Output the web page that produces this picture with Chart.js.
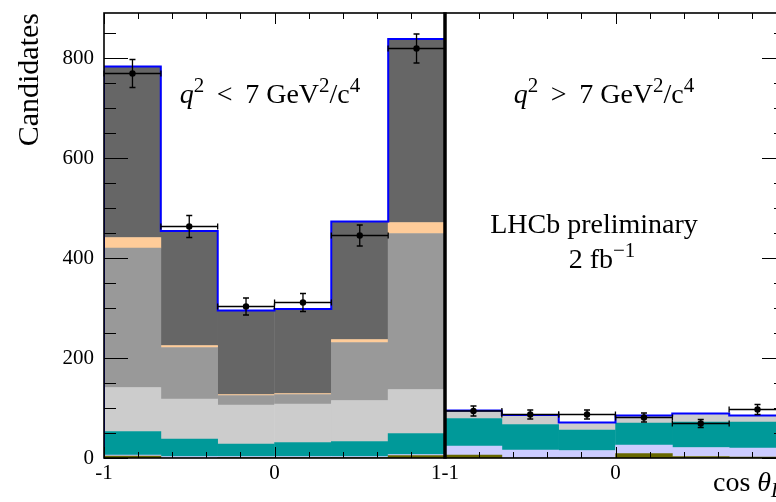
<!DOCTYPE html>
<html>
<head>
<meta charset="utf-8">
<script src="https://cdn.jsdelivr.net/npm/chart.js@4.4.1/dist/chart.umd.min.js"></script>
<style>
  html, body { margin: 0; padding: 0; background: #fff; overflow: hidden; }
  canvas { display: block; }
</style>
</head>
<body>
<canvas id="cosChart" width="800" height="502"></canvas>
<script>
// cos(theta_L) bins, same binning in both q2 ranges
const binCenters = [-0.833, -0.5, -0.167, 0.167, 0.5, 0.833];
const binLeft    = [-1, -0.667, -0.333, 0, 0.333, 0.667];
const xTickLabels = ['-1', '0', '1-1', '0', '1'];

// q2 < 7 GeV2/c4 : fit components, bottom to top
const oliveLow  = [4, 0, 1, 1, 1, 5];
const lilacLow  = [2, 3, 2, 2, 2, 2];
const tealLow   = [47, 35, 25, 28, 30, 42];
const silverLow = [88, 80, 78, 77, 82, 88];
const greyLow   = [279, 103, 19, 19, 116, 312];
const peachLow  = [21, 4, 2, 2, 6, 22];
const darkLow   = [342, 229, 168, 169, 236, 367];
const dataLow   = [769, 463, 303, 311, 445, 819];
const errLow    = [28, 22, 17, 18, 21, 29];

// q2 > 7 GeV2/c4
const oliveHigh  = [6, 0, 0, 9, 3, 2];
const lilacHigh  = [18, 16, 15, 17, 18, 18];
const tealHigh   = [55, 51, 41, 44, 51, 52];
const silverHigh = [16, 19, 15, 15, 17, 13];
const greyHigh   = [0, 0, 0, 0, 0, 0];
const peachHigh  = [0, 0, 0, 0, 0, 0];
const darkHigh   = [0, 0, 0, 0, 0, 0];
const dataHigh   = [94, 87, 87, 81, 69, 97];
const errHigh    = [10, 9, 9, 9, 8, 10];

// both panels share one linear axis: low range at u = c+1, high range at u = c+3
const OFF_LOW = 1, OFF_HIGH = 3;
const SERIF = '"Liberation Serif", "DejaVu Serif", serif';

function pts(vals, offset) {
  return binCenters.map((c, i) => ({ x: c + offset, y: vals[i] }));
}
function both(low, high) {
  return pts(low, OFF_LOW).concat(pts(high, OFF_HIGH));
}
function histBar(low, high, color) {
  return { type: 'bar', data: both(low, high), backgroundColor: color, borderWidth: 0,
           grouped: false, barPercentage: 1, categoryPercentage: 1 };
}

const partsLow  = [oliveLow, lilacLow, tealLow, silverLow, greyLow, peachLow, darkLow];
const partsHigh = [oliveHigh, lilacHigh, tealHigh, silverHigh, greyHigh, peachHigh, darkHigh];
const totalOf = parts => binCenters.map((c, i) => parts.reduce((s, p) => s + p[i], 0));

// histogram outline from the summed components
function outline(parts, offset, key) {
  const tot = totalOf(parts);
  const d = [{ x: binLeft[0] + offset, y: 0 }];
  binLeft.forEach((b, i) => d.push({ x: b + offset, y: tot[i] }));
  d.push({ x: 1 + offset, y: tot[tot.length - 1] });
  return { type: 'line', data: d, stepped: 'before', borderColor: '#0000ff', borderWidth: 2,
           pointRadius: 0, fill: false, stack: key };
}

function richText(ctx, parts, x, y, size, align) {
  const fontOf = p => (p.i ? 'italic ' : '') + (p.s ? Math.round(size * 0.74) : size) + 'px ' + SERIF;
  let w = 0;
  parts.forEach(p => { ctx.font = fontOf(p); w += ctx.measureText(p.t).width; });
  let cx = align === 'center' ? x - w / 2 : x;
  parts.forEach(p => {
    ctx.font = fontOf(p);
    const dy = p.s === 'sup' ? -size * 0.4 : p.s === 'sub' ? size * 0.22 : 0;
    ctx.fillText(p.t, cx, y + dy);
    cx += ctx.measureText(p.t).width;
  });
}

const frame = {
  id: 'frame',
  afterDatasetsDraw(chart) {
    const { ctx, chartArea: a, scales: { x, y } } = chart;
    ctx.save();
    ctx.strokeStyle = '#000';
    ctx.fillStyle = '#000';

    // error bars on the data points
    ctx.lineWidth = 1.3;
    const errs = (vals, errv, offset) => {
      binCenters.forEach((c, i) => {
        const px = x.getPixelForValue(c + offset);
        const x0 = x.getPixelForValue(c - 1 / 6 + offset);
        const x1 = x.getPixelForValue(c + 1 / 6 + offset);
        const py = y.getPixelForValue(vals[i]);
        const ylo = y.getPixelForValue(vals[i] - errv[i]);
        const yhi = y.getPixelForValue(vals[i] + errv[i]);
        ctx.beginPath();
        ctx.moveTo(x0, py); ctx.lineTo(x1, py);
        ctx.moveTo(x0, py - 3); ctx.lineTo(x0, py + 3);
        ctx.moveTo(x1, py - 3); ctx.lineTo(x1, py + 3);
        ctx.moveTo(px, ylo); ctx.lineTo(px, yhi);
        ctx.moveTo(px - 3, ylo); ctx.lineTo(px + 3, ylo);
        ctx.moveTo(px - 3, yhi); ctx.lineTo(px + 3, yhi);
        ctx.stroke();
      });
    };
    errs(dataLow, errLow, OFF_LOW);
    errs(dataHigh, errHigh, OFF_HIGH);

    // inward ticks
    ctx.lineWidth = 1;
    ctx.beginPath();
    for (let v = 0; v <= y.max; v += 50) {
      const py = Math.round(y.getPixelForValue(v)) + 0.5;
      const len = v % 200 === 0 ? 24 : 12;
      ctx.moveTo(a.left, py); ctx.lineTo(a.left + len, py);
      ctx.moveTo(a.right, py); ctx.lineTo(a.right - len, py);
    }
    for (let i = 0; i <= 20; i++) {
      const px = Math.round(x.getPixelForValue(i * 0.2)) + 0.5;
      const len = i % 5 === 0 ? 11 : 6;
      ctx.moveTo(px, a.top); ctx.lineTo(px, a.top + len);
      ctx.moveTo(px, a.bottom); ctx.lineTo(px, a.bottom - len);
    }
    ctx.stroke();

    // frame and the divider between the two q2 ranges
    ctx.lineWidth = 1.6;
    ctx.strokeRect(a.left, a.top, a.right - a.left, a.bottom - a.top);
    ctx.lineWidth = 3.5;
    const mid = x.getPixelForValue(2);
    ctx.beginPath(); ctx.moveTo(mid, a.top - 0.8); ctx.lineTo(mid, a.bottom + 0.8); ctx.stroke();

    // labels
    ctx.textBaseline = 'alphabetic';
    richText(ctx, [{ t: 'q', i: 1 }, { t: '2', s: 'sup' }, { t: ' \u2009<\u2009 7 GeV' }, { t: '2', s: 'sup' },
                   { t: '/c' }, { t: '4', s: 'sup' }], 270, 103, 28, 'center');
    richText(ctx, [{ t: 'q', i: 1 }, { t: '2', s: 'sup' }, { t: ' \u2009>\u2009 7 GeV' }, { t: '2', s: 'sup' },
                   { t: '/c' }, { t: '4', s: 'sup' }], 604, 103, 28, 'center');
    richText(ctx, [{ t: 'LHCb preliminary' }], 594, 233, 28, 'center');
    richText(ctx, [{ t: '2 fb' }, { t: '\u22121', s: 'sup' }], 602, 268, 28, 'center');
    richText(ctx, [{ t: 'cos ' }, { t: '\u03b8', i: 1 }, { t: 'L', i: 1, s: 'sub' }], 713, 491, 28, 'left');
    ctx.restore();
  }
};

const datasets = [
  { type: 'scatter', data: both(dataLow, dataHigh), pointRadius: 3.2, backgroundColor: '#000',
    borderWidth: 0, stack: 'points' },
  outline(partsLow, OFF_LOW, 'outlineLow'),
  outline(partsHigh, OFF_HIGH, 'outlineHigh'),
  histBar(oliveLow, oliveHigh, '#666600'),
  histBar(lilacLow, lilacHigh, '#ccccff'),
  histBar(tealLow, tealHigh, '#009999'),
  histBar(silverLow, silverHigh, '#cccccc'),
  histBar(greyLow, greyHigh, '#999999'),
  histBar(peachLow, peachHigh, '#ffcc99'),
  histBar(darkLow, darkHigh, '#666666')
];

new Chart(document.getElementById('cosChart'), {
  data: { datasets: datasets },
  options: {
    responsive: false,
    animation: false,
    layout: { padding: { top: 13, right: 14, left: 0, bottom: 0 } },
    plugins: { legend: { display: false }, tooltip: { enabled: false } },
    scales: {
      x: {
        type: 'linear', min: 0, max: 4, offset: false,
        grid: { display: false, drawTicks: false },
        border: { display: false },
        ticks: {
          stepSize: 1, autoSkip: false, maxRotation: 0, padding: 3, color: '#000',
          font: { family: SERIF, size: 21 },
          callback: (v) => xTickLabels[Math.round(v)]
        },
        afterFit: s => { s.height = 44; s.paddingLeft = 0; s.paddingRight = 0; }
      },
      y: {
        min: 0, max: 890, stacked: true,
        grid: { display: false, drawTicks: false },
        border: { display: false },
        ticks: { stepSize: 200, includeBounds: false, padding: 10, color: '#000',
                 font: { family: SERIF, size: 21 } },
        title: { display: true, text: 'Candidates', align: 'end', color: '#000',
                 font: { family: SERIF, size: 30 }, padding: { top: 12, bottom: 0 } },
        afterFit: s => { s.width = 104; s.paddingTop = 0; s.paddingBottom = 0; }
      }
    }
  },
  plugins: [frame]
});
</script>
</body>
</html>
